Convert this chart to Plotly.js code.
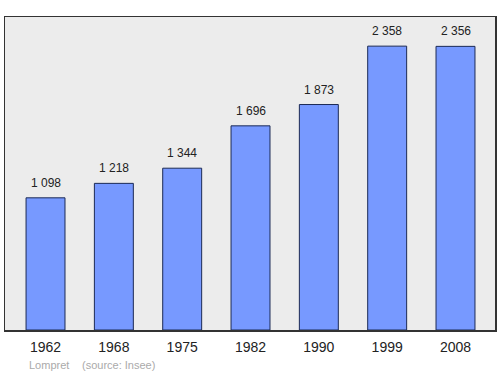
<!DOCTYPE html>
<html><head><meta charset="utf-8">
<script src="https://cdn.plot.ly/plotly-3.0.1.min.js"></script>
<style>html,body{margin:0;padding:0;background:#fff}#c{width:500px;height:374px}</style>
</head><body><div id="c"></div>
<script>
const years = ["1962","1968","1975","1982","1990","1999","2008"];
const population = [1098,1218,1344,1696,1873,2358,2356];
const labels = ["1 098","1 218","1 344","1 696","1 873","2 358","2 356"];

const trace = {
  type: "bar", x: years, y: population, width: 0.57,
  marker: {color: "#7799ff", line: {color: "#1c2a55", width: 1}},
  hoverinfo: "none"
};
const ann = years.map((y, i) => ({
  x: i, y: population[i], xref: "x", yref: "y", text: labels[i], showarrow: false,
  yshift: 15, font: {family: "Liberation Sans, Arial, sans-serif", size: 12, color: "#222"}
}));
ann.push({xref: "paper", yref: "paper", x: 0.044, y: -0.112, xanchor: "left", yanchor: "middle",
  text: "Lompret", showarrow: false, font: {family: "Liberation Sans, Arial, sans-serif", size: 11, color: "#aaa"}});
ann.push({xref: "paper", yref: "paper", x: 0.153, y: -0.112, xanchor: "left", yanchor: "middle",
  text: "(source: Insee)", showarrow: false, font: {family: "Liberation Sans, Arial, sans-serif", size: 11, color: "#aaa"}});

const layout = {
  width: 500, height: 374,
  margin: {l: 5, r: 5, t: 17, b: 44},
  paper_bgcolor: "#fff", plot_bgcolor: "#ececec",
  showlegend: false,
  xaxis: {type: "category", range: [-0.593, 6.578], showgrid: false, zeroline: false,
    showline: true, mirror: true, linecolor: "#333", linewidth: 1.5, ticks: "", ticklen: 0,
    ticklabelstandoff: 4,
    tickfont: {family: "Liberation Sans, Arial, sans-serif", size: 14, color: "#222"}},
  yaxis: {range: [0, 2600], showgrid: false, zeroline: false, showticklabels: false,
    showline: true, mirror: true, linecolor: "#333", linewidth: 1.5, ticks: ""},
  annotations: ann
};
Plotly.newPlot("c", [trace], layout, {displayModeBar: false, staticPlot: true});
</script></body></html>
